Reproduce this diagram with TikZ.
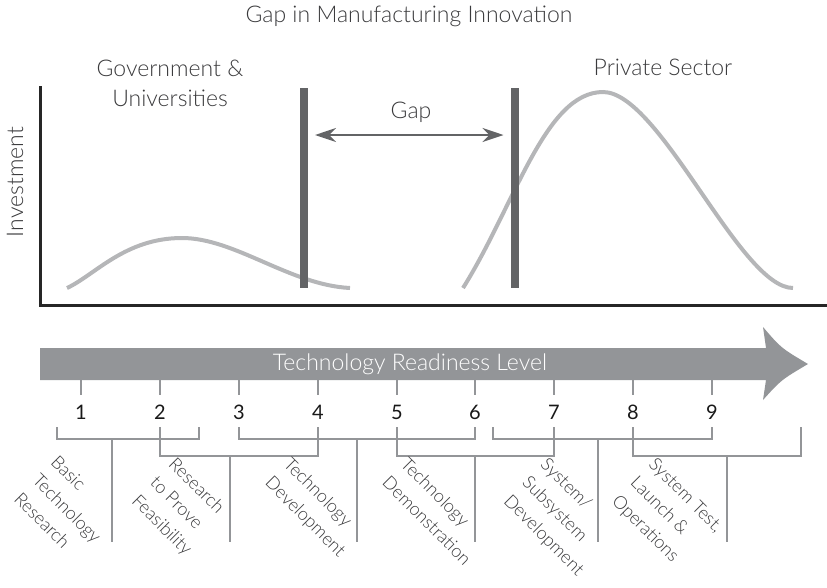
\documentclass[tikz,border=0pt]{standalone}
\usepackage{fontspec}
\IfFontExistsTF{Lato Light}{\setmainfont{Lato Light}}{\setmainfont{Lato}}
\newfontfamily\levelfont{Lato}
\usepackage{tikz}
\usetikzlibrary{calc,arrows.meta}
\usetikzlibrary{positioning}
\definecolor{walldark}{HTML}{636466}
\definecolor{curvelight}{HTML}{B5B6B8}
\definecolor{trlgray}{HTML}{939598}
\definecolor{ink}{HTML}{3A3A3C}
\tikzstyle{chart}=[
  x=1pt,y=-1pt,font=\fontsize{23}{30}\selectfont,text=ink
]
\tikzstyle{axis}=[
  line width=3pt,black!85
]
\tikzstyle{curve}=[
  line width=4pt,curvelight
]
\tikzstyle{wall}=[
  line width=8pt,walldark
]
\tikzstyle{gaparrow}=[
  line width=2.4pt,walldark,
  {Stealth[length=21pt,width=14pt,inset=7pt]}-{Stealth[length=21pt,width=14pt,inset=7pt]}
]
\tikzstyle{tick}=[
  line width=2.2pt,trlgray
]
\tikzstyle{bracket}=[
  line width=2.2pt,trlgray
]
\tikzstyle{trlnum}=[
  font=\levelfont\fontsize{20}{24}\selectfont,text=black!90
]
\tikzstyle{phase}=[
  rotate=-45,anchor=north west,align=left,inner sep=0pt,
  font=\fontsize{18}{26}\selectfont,text=ink
]

\begin{document}
\begin{tikzpicture}[chart]
    \useasboundingbox (0,0) rectangle (827,587);
    % labels on top
    \node (title) at (409,16) {Gap in Manufacturing Innovation};
    \node (gov) at (170,83) [align=center] {Government \&\\Universities};
    \node (priv) at (663,67) {Private Sector};
    \node (inv) at (15,182) [rotate=90] {Investment};
    \node (gap) at (411,112) {Gap};
    % axes
    \coordinate (ytop) at (40,86);
    \coordinate (xend) at (827,305);
    \draw [axis] (ytop) |- (xend);
    % investment curves
    \draw [curve] (67,288) .. controls (95,275) and (125,238) .. (182,238)
      .. controls (235,238) and (290,285) .. (350,288);
    \draw [curve] (463,288) .. controls (515,205) and (545,92) .. (603,92)
      .. controls (660,92) and (740,288) .. (793,288);
    % the two walls
    \coordinate (w1t) at (304,88);
    \coordinate (w1b) at (304,288);
    \coordinate (w2t) at (514.5,88);
    \coordinate (w2b) at (514.5,288);
    \draw [wall] (w1t) -- (w1b);
    \draw [wall] (w2t) -- (w2b);
    \coordinate (gapl) at ($(w1t)!0.235!(w1b) + (11,0)$);
    \coordinate (gapr) at ($(w2t)!0.235!(w2b) + (-11,0)$);
    \draw [gaparrow] (gapl) -- (gapr);
    % readiness arrow
    \fill [trlgray] (40,348) -- (766,348) -- (763,327)
      .. controls (781,348) .. (808,364)
      .. controls (781,380) .. (763,400) -- (766,380) -- (40,380) -- cycle;
    \node (trl) at (410,364) [text=white] {Technology Readiness Level};
    % levels
    \node (n1) at (81,412) [trlnum] {1};
    \node (n2) at (160,412) [trlnum] {2};
    \node (n3) at (239,412) [trlnum] {3};
    \node (n4) at (318,412) [trlnum] {4};
    \node (n5) at (397,412) [trlnum] {5};
    \node (n6) at (475,412) [trlnum] {6};
    \node (n7) at (554,412) [trlnum] {7};
    \node (n8) at (633,412) [trlnum] {8};
    \node (n9) at (712,412) [trlnum] {9};
    \foreach \n in {n1,n2,n3,n4,n5,n6,n7,n8,n9}
      \draw [tick] ($(\n)+(0,-32)$) -- ($(\n)+(0,-17)$);
    % brackets
    \draw [bracket] (57,427) |- (199,439) -- (199,427);
    \draw [bracket] (112,439) -- (112,542);
    \draw [bracket] (160,427) |- (318,456) -- (318,427);
    \draw [bracket] (230,456) -- (230,542);
    \draw [bracket] (239,427) |- (475,439) -- (475,427);
    \draw [bracket] (357,439) -- (357,542);
    \draw [bracket] (397,427) |- (554,456) -- (554,427);
    \draw [bracket] (475,456) -- (475,542);
    \draw [bracket] (493,427) |- (712,439) -- (712,427);
    \draw [bracket] (598,439) -- (598,542);
    \draw [bracket] (633,427) |- (801,456) -- (801,427);
    \draw [bracket] (727,456) -- (727,542);
    % phases
    \node (p1) at (59,454) [phase] {Basic\\Technology\\Research};
    \node (p2) at (177,456) [phase] {Research\\to Prove\\Feasibility};
    \node (p3) at (292,456) [phase] {Technology\\Development};
    \node (p4) at (409,456) [phase] {Technology\\Demonstration};
    \node (p5) at (549,456) [phase] {System/\\Subsystem\\Development};
    \node (p6) at (657,456) [phase] {System Test,\\Launch \&\\Operations};
\end{tikzpicture}
\end{document}
